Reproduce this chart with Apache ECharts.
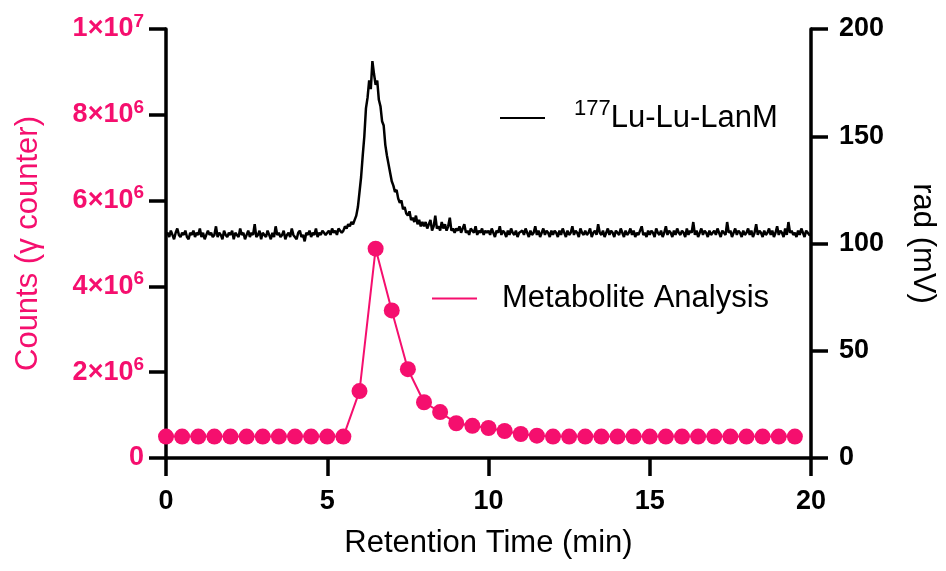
<!DOCTYPE html>
<html>
<head>
<meta charset="utf-8">
<script src="https://cdn.jsdelivr.net/npm/echarts@6/dist/echarts.min.js"></script>
<style>
  html, body { margin: 0; padding: 0; background: #fff; }
  #chart { width: 946px; height: 571px; }
</style>
</head>
<body>
<div id="chart"></div>
<script>
// Metabolite analysis (gamma counter), one fraction every 0.5 min
const metaTime = [0, 0.5, 1, 1.5, 2, 2.5, 3, 3.5, 4, 4.5, 5, 5.5, 6, 6.5, 7, 7.5, 8, 8.5, 9, 9.5,
  10, 10.5, 11, 11.5, 12, 12.5, 13, 13.5, 14, 14.5, 15, 15.5, 16, 16.5, 17, 17.5, 18, 18.5, 19, 19.5];
const metaCounts = [5e5, 5e5, 5e5, 5e5, 5e5, 5e5, 5e5, 5e5, 5e5, 5e5, 5e5, 5e5,
  1.56e6, 4.88e6, 3.44e6, 2.07e6, 1.30e6, 1.07e6, 0.81e6, 0.75e6,
  0.70e6, 0.63e6, 0.56e6, 0.52e6, 5e5, 5e5, 5e5, 5e5, 5e5, 5e5,
  5e5, 5e5, 5e5, 5e5, 5e5, 5e5, 5e5, 5e5, 5e5, 5e5];

// radio trace (mV), sampled every 0.05 min from 0 to 20
const radStart = 0;
const radStep = 0.05;
const radSignal = [
  104, 105, 103, 106, 104, 102, 105, 107, 104, 103, 105, 104, 106, 103, 102, 105, 104, 106, 103, 105,
  104, 107, 103, 105, 102, 104, 106, 104, 105, 103, 104, 108, 103, 105, 104, 102, 106, 104, 103, 105,
  104, 106, 102, 105, 104, 103, 107, 104, 105, 102, 104, 106, 103, 105, 104, 109, 103, 104, 106, 102,
  105, 104, 103, 106, 104, 102, 105, 103, 108, 104, 105, 103, 104, 106, 102, 104, 105, 103, 107, 104,
  104, 102, 105, 106, 103, 104, 101, 105, 104, 106, 103, 105, 104, 107, 103, 105, 104, 106, 105, 104,
  105, 106, 104, 107, 105, 106, 104, 107, 106, 105, 106, 108, 107, 109, 108, 110, 109, 111, 113, 117,
  124, 131, 141, 150, 163, 168, 176, 172, 185, 179, 174, 176, 167, 164, 157, 155, 146, 141, 137, 133,
  129, 127, 124, 125, 121, 119, 120, 116, 117, 114, 113, 115, 111, 112, 110, 113, 109, 111, 108, 110,
  108, 110, 107, 109, 111, 106, 108, 113, 107, 108, 106, 110, 107, 109, 106, 108, 112, 106, 107, 105,
  107, 106, 108, 105, 107, 109, 105, 106, 104, 107, 106, 105, 108, 104, 106, 105, 107, 104, 106, 105,
  106, 104, 107, 105, 103, 106, 105, 108, 104, 106, 105, 103, 106, 104, 107, 105, 104, 106, 103, 105,
  105, 106, 104, 107, 105, 103, 106, 104, 105, 108, 104, 106, 103, 105, 107, 104, 106, 105, 103, 106,
  104, 106, 105, 103, 106, 104, 107, 105, 103, 106, 104, 105, 108, 104, 106, 105, 103, 107, 105, 104,
  106, 104, 105, 107, 103, 105, 106, 104, 109, 105, 104, 106, 103, 105, 107, 104, 106, 105, 103, 106,
  105, 104, 107, 105, 103, 106, 104, 105, 107, 104, 106, 103, 105, 104, 106, 108, 104, 105, 103, 106,
  104, 106, 105, 103, 107, 105, 104, 106, 103, 105, 108, 104, 106, 105, 103, 106, 104, 107, 105, 104,
  106, 105, 103, 107, 104, 106, 105, 110, 104, 106, 103, 105, 107, 104, 106, 105, 103, 106, 104, 105,
  106, 104, 107, 105, 103, 106, 105, 104, 110, 105, 106, 103, 105, 107, 104, 106, 105, 103, 106, 104,
  105, 107, 104, 106, 103, 105, 109, 104, 106, 105, 103, 106, 104, 105, 107, 104, 106, 103, 105, 108,
  104, 106, 105, 103, 107, 104, 110, 105, 106, 104, 105, 103, 106, 104, 107, 105, 103, 106, 105, 104,
  104
];

const xTicks = [0, 5, 10, 15, 20];
const countTicks = [0, 2e6, 4e6, 6e6, 8e6, 1e7];
const radTicks = [0, 50, 100, 150, 200];

const PINK = '#F50F6E';
const FONT = 'Liberation Sans, Arial, sans-serif';

const chart = echarts.init(document.getElementById('chart'));

const radData = radSignal.map((v, i) => [radStart + i * radStep, v]);
const metaData = metaTime.map((t, i) => [t, metaCounts[i]]);

const countLabel = (v) => {
  if (v === 0) return '{m|0}';
  const exp = Math.floor(Math.log10(v));
  const mant = Math.round(v / Math.pow(10, exp));
  return '{m|' + mant + '×10}{s|' + exp + '}';
};

const legendRich = {
  n: { fontSize: 31, fontFamily: FONT, color: '#000', lineHeight: 40 },
  s: { fontSize: 22, fontFamily: FONT, color: '#000', lineHeight: 22, verticalAlign: 'top' }
};

const option = {
  animation: false,
  backgroundColor: '#fff',
  grid: { left: 166, right: 134, top: 29, bottom: 113 },
  legend: [
    {
      data: ['177Lu-Lu-LanM'],
      left: 495, top: 93,
      icon: 'rect', itemWidth: 45, itemHeight: 2,
      formatter: () => '{s|177}{n|Lu-Lu-LanM}',
      textStyle: { rich: legendRich, padding: [0, 0, 0, 24] },
      selectedMode: false
    },
    {
      data: ['Metabolite Analysis'],
      left: 427, top: 278,
      icon: 'rect', itemWidth: 45, itemHeight: 2,
      formatter: (name) => '{n|' + name + '}',
      textStyle: { rich: legendRich, padding: [0, 0, 0, 20] },
      selectedMode: false
    }
  ],
  xAxis: {
    type: 'value',
    min: xTicks[0], max: xTicks[xTicks.length - 1], interval: 5,
    name: 'Retention Time (min)',
    nameLocation: 'middle', nameGap: 70,
    nameTextStyle: { fontSize: 31, fontFamily: FONT, color: '#000' },
    axisLine: { show: true, onZero: false, lineStyle: { color: '#000', width: 3.5 } },
    axisTick: { show: true, length: 18, lineStyle: { color: '#000', width: 3.5 } },
    axisLabel: { margin: 30, fontSize: 27, fontWeight: 'bold', fontFamily: FONT, color: '#000' },
    splitLine: { show: false }
  },
  yAxis: [
    {
      type: 'value', position: 'left',
      min: countTicks[0], max: countTicks[countTicks.length - 1], interval: 2e6,
      name: 'Counts (γ counter)',
      nameLocation: 'middle', nameRotate: 90, nameGap: 122,
      nameTextStyle: { fontSize: 31, fontFamily: FONT, color: PINK },
      axisLine: { show: true, onZero: false, lineStyle: { color: '#000', width: 3.5 } },
      axisTick: { show: true, length: 17, lineStyle: { color: '#000', width: 3.5 } },
      axisLabel: {
        margin: 22,
        formatter: countLabel,
        rich: {
          m: { fontSize: 27, fontWeight: 'bold', fontFamily: FONT, color: PINK, lineHeight: 34 },
          s: { fontSize: 19, fontWeight: 'bold', fontFamily: FONT, color: PINK, lineHeight: 19, verticalAlign: 'top' }
        }
      },
      splitLine: { show: false }
    },
    {
      type: 'value', position: 'right',
      min: radTicks[0], max: radTicks[radTicks.length - 1], interval: 50,
      name: 'rad (mV)',
      nameLocation: 'middle', nameRotate: -90, nameGap: 96,
      nameTextStyle: { fontSize: 31, fontFamily: FONT, color: '#000' },
      axisLine: { show: true, onZero: false, lineStyle: { color: '#000', width: 3.5 } },
      axisTick: { show: true, length: 17, lineStyle: { color: '#000', width: 3.5 } },
      axisLabel: { margin: 28, fontSize: 27, fontWeight: 'bold', fontFamily: FONT, color: '#000' },
      splitLine: { show: false }
    }
  ],
  series: [
    {
      name: '177Lu-Lu-LanM',
      type: 'line',
      yAxisIndex: 1,
      data: radData,
      showSymbol: false,
      symbol: 'none',
      color: '#000',
      lineStyle: { color: '#000', width: 2.5 }
    },
    {
      name: 'Metabolite Analysis',
      type: 'line',
      yAxisIndex: 0,
      data: metaData,
      symbol: 'circle',
      symbolSize: 16,
      color: PINK,
      itemStyle: { color: PINK },
      lineStyle: { color: PINK, width: 2 }
    }
  ]
};

chart.setOption(option);
</script>
</body>
</html>
